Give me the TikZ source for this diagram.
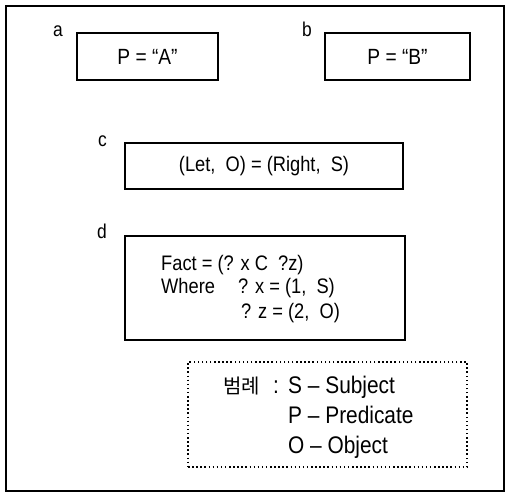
\documentclass[tikz,border=0pt]{standalone}
\usepackage{fontspec}
\setmainfont[FakeStretch=0.87]{Liberation Sans}
\newfontfamily\kr{Noto Sans CJK KR}
\begin{document}
\begin{tikzpicture}[x=1pt,y=-1pt,
  box/.style={draw, line width=1.8pt, inner sep=0pt},
  lbl/.style={anchor=base west, inner sep=0pt, font=\fontsize{20}{24}\selectfont},
  txt/.style={anchor=base west, inner sep=0pt, font=\fontsize{21}{25}\selectfont},
  lgd/.style={anchor=base west, inner sep=0pt, font=\fontsize{24}{28}\selectfont},
  big/.style={font=\fontsize{22}{26}\selectfont},
  mid/.style={font=\fontsize{21}{25}\selectfont}]
\useasboundingbox (0,0) rectangle (507,495);
\draw[line width=2pt] (6,6) rectangle (504,491);
% a, b
\node[lbl] (la) at (53,37) {a};
\node[box, big, minimum width=141pt, minimum height=47pt] (a) at (147.5,56.5) {P = “A”};
\node[lbl] (lb) at (302,37) {b};
\node[box, big, minimum width=145pt, minimum height=47pt] (b) at (397.5,56.5) {P = “B”};
% c
\node[lbl] (lc) at (98,147) {c};
\node[box, mid, minimum width=278pt, minimum height=46pt] (c) at (264,166) {(Let,\ \ O) = (Right,\ \ S)};
% d
\node[lbl] (ld) at (97,238) {d};
\node[box, minimum width=280pt, minimum height=104pt] (d) at (265,288) {};
\node[txt] (d1) at (161,270) {Fact = (? x C\ \ ?z)};
\node[txt] (d2a) at (161,294) {Where};
\node[txt] (d2b) at (238,294) {? x = (1,\ \ S)};
\node[txt] (d3) at (241,318) {? z = (2,\ \ O)};
% legend
\node[draw, line width=1.5pt, dash pattern=on 1.5pt off 2.6pt, minimum width=279pt, minimum height=105pt, inner sep=0pt] (lg) at (327.5,414.5) {};
\node[anchor=base west, inner sep=0pt, font=\kr\fontsize{20}{24}\selectfont] (l0) at (223,393) {범례};
\node[lgd] (lcol) at (273,393) {:};
\node[lgd] (l1) at (288,393) {S – Subject};
\node[lgd] (l2) at (288,423) {P – Predicate};
\node[lgd] (l3) at (288,453) {O – Object};
\end{tikzpicture}
\end{document}
